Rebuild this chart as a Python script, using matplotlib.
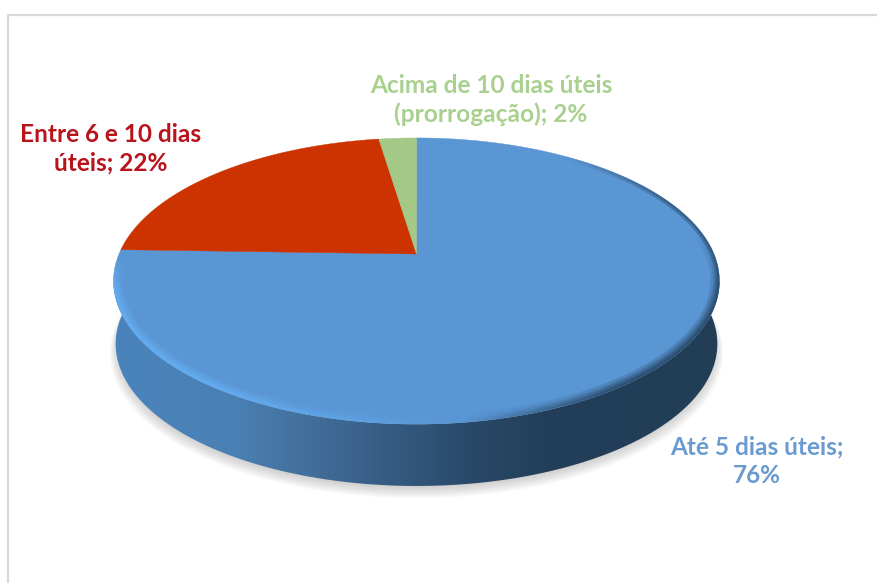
import numpy as np
from matplotlib import pyplot as plt
from matplotlib.collections import LineCollection
from matplotlib.colors import LinearSegmentedColormap, to_rgb
from matplotlib.patches import Polygon

# Fatias no sentido horario a partir do topo
categorias = ['Até 5 dias úteis;', 'Entre 6 e 10 dias\núteis;', 'Acima de 10 dias úteis\n(prorrogação);']
valores = [75.5, 22.1, 2.4]
cores = ['#5a96d4', '#cc3300', '#a4c886']
cores_texto = ['#6a9bd0', '#b8141c', '#a9d08e']
sep_rotulo = ['\n', ' ', ' ']
pos_rotulo = [(757, 461), (111, 149), (491, 100)]

# Geometria do disco em perspectiva (pixels)
cx, cy = 416.5, 254
R, b, k = 297.5, 138, 0.189
prof = 63


def projeta(u, v, escala=1.0, dy=0.0):
    x = cx + escala * R * u / (1 - k * v)
    y = cy + dy + escala * b * v / (1 - k * v)
    return np.column_stack([x, y])


def aro(ini, fim, n=300, escala=1.0, dy=0.0):
    # angulos em graus: 0 = direita, 90 = frente, 180 = esquerda
    a = np.radians(np.linspace(ini, fim, n))
    return projeta(np.cos(a), np.sin(a), escala, dy)


fig = plt.figure(figsize=(8.77, 5.83), dpi=100)
ax = fig.add_axes([0, 0, 1, 1])
ax.set_xlim(0, 877)
ax.set_ylim(583, 0)
ax.axis('off')

# Moldura do grafico
ax.plot([8, 8, 877], [583, 15, 15], color='#d9d9d9', lw=1.6, zorder=1)

# Sombra difusa
for i in range(14):
    esc = 1.012 - i * 0.0028
    sombra = aro(0, 360, escala=esc, dy=prof + 9 - i * 0.7)
    ax.add_patch(Polygon(sombra, closed=True, fc='#8c8c8c', ec='none', alpha=0.045, zorder=2))

# Lateral do disco com gradiente horizontal
a0 = np.degrees(np.arcsin(k))
frente_topo = aro(a0, 180 - a0)
frente_base = aro(a0 - 12, 180 - a0 + 12, escala=0.993, dy=prof)
lateral = Polygon(np.vstack([frente_topo, frente_base[::-1]]), closed=True, fc='none', ec='none', zorder=3)
ax.add_patch(lateral)
cmap_lat = LinearSegmentedColormap.from_list('lateral', [
    (0.0, '#4a84bd'), (0.2, '#4a80b3'), (0.32, '#436f9c'), (0.45, '#365c84'),
    (0.58, '#2a4a6a'), (0.72, '#233e58'), (1.0, '#223d56')])
im = ax.imshow(np.linspace(0, 1, 400).reshape(1, -1), cmap=cmap_lat, extent=(113, 720, 490, 250),
               aspect='auto', zorder=3)
im.set_clip_path(lateral)
ax.set_xlim(0, 877)
ax.set_ylim(583, 0)

# Face superior: fatias calculadas a partir dos valores
fracao = np.cumsum([0] + valores) / sum(valores)
face = Polygon(aro(0, 360), closed=True, fc='none', ec='none', zorder=4)
ax.add_patch(face)
for i in range(len(valores)):
    # do topo (-90 graus) no sentido horario da tela
    ini = -90 + 360 * fracao[i]
    fim = -90 + 360 * fracao[i + 1]
    pts = np.vstack([[cx, cy], aro(ini, fim, n=200)])
    ax.add_patch(Polygon(pts, closed=True, fc=cores[i], ec=cores[i], lw=0.3, zorder=4))

# Chanfro: brilho na frente esquerda e escurecimento na direita
ang = np.linspace(-60, 200, 521)
pts = aro(-60, 200, n=521)
segs = np.stack([pts[:-1], pts[1:]], axis=1)
mid = (ang[:-1] + ang[1:]) / 2
claro = np.interp(mid, [84, 125, 165, 179], [0, 1, 1, 0])
escuro = np.interp(mid, [-55, -25, 55, 82], [0, 1, 1, 0])
frente = np.interp(mid, [-10, 20], [0, 1])
cor_c, cor_e = np.array(to_rgb('#68b4fa')), np.array(to_rgb('#223d56'))
for lw, alfa, so_frente in zip([13, 9, 6, 3], [0.22, 0.28, 0.35, 0.4], [True, True, False, False]):
    rgba = np.zeros((len(mid), 4))
    peso_e = escuro * frente if so_frente else escuro
    rgba[:, :3] = np.where(claro[:, None] > 0, cor_c, cor_e)
    rgba[:, 3] = alfa * (claro + peso_e)
    lc = LineCollection(segs, colors=rgba, linewidths=lw, capstyle='butt', zorder=5)
    ax.add_collection(lc)
    lc.set_clip_path(face)

# Rotulos
for i in range(len(valores)):
    texto = f'{categorias[i]}{sep_rotulo[i]}{valores[i]:.0f}%'
    ax.text(pos_rotulo[i][0], pos_rotulo[i][1], texto, color=cores_texto[i], family='Lato', weight='bold',
            fontsize=17.6, ha='center', va='center', linespacing=1.28, zorder=6)

fig.savefig('out.png', dpi=100, facecolor='white')
